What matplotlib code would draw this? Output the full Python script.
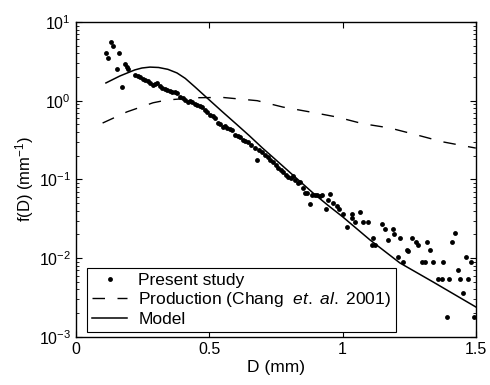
import numpy as np
import matplotlib
matplotlib.use('Agg')
import matplotlib.pyplot as plt
from matplotlib.ticker import LogLocator, NullFormatter, FixedLocator

plt.rcParams['font.family'] = ['Liberation Sans', 'DejaVu Sans']
plt.rcParams['mathtext.fontset'] = 'custom'
plt.rcParams['mathtext.rm'] = 'Liberation Sans'
plt.rcParams['mathtext.it'] = 'Liberation Sans:italic'
plt.rcParams['font.size'] = 11

# measured points (D in mm, f in 1/mm)
present_D = [0.113, 0.120, 0.131, 0.139, 0.154, 0.161, 0.172, 0.184, 0.191, 0.195,
             0.221, 0.2325, 0.24, 0.251, 0.259, 0.27, 0.2775, 0.289, 0.296, 0.304,
             0.315, 0.3225, 0.334, 0.341, 0.3525, 0.36, 0.371, 0.379, 0.39, 0.401,
             0.409, 0.42, 0.4275, 0.435, 0.446, 0.454, 0.465, 0.4725, 0.484, 0.491,
             0.5025, 0.514, 0.521, 0.5325, 0.54, 0.551, 0.559, 0.566, 0.5775, 0.585,
             0.596, 0.6075, 0.615, 0.626, 0.634, 0.645, 0.656, 0.671, 0.679, 0.686,
             0.6975, 0.709, 0.72, 0.7275, 0.739, 0.75, 0.7575, 0.769, 0.776, 0.7875,
             0.795, 0.806, 0.814, 0.821, 0.8325, 0.84, 0.851, 0.859, 0.866, 0.8775,
             0.885, 0.896, 0.904, 0.915, 0.9225, 0.9375, 0.945, 0.9525, 0.964, 0.979,
             0.986, 1.001, 1.016, 1.035, 1.035, 1.046, 1.065, 1.076, 1.095, 1.11,
             1.114, 1.121, 1.1475, 1.159, 1.17, 1.189, 1.1925, 1.2075, 1.215, 1.226,
             1.241, 1.245, 1.26, 1.275, 1.2825, 1.2975, 1.309, 1.316, 1.3275, 1.339,
             1.3575, 1.3725, 1.376, 1.391, 1.399, 1.41, 1.421, 1.4325, 1.44, 1.451,
             1.4625, 1.47, 1.481, 1.4925]
present_f = [4.0, 3.5, 5.5, 5.0, 2.5, 4.0, 1.5, 2.9, 2.7, 2.5,
             2.12, 2.06, 2.0, 1.89, 1.83, 1.78, 1.68, 1.58, 1.63, 1.68,
             1.54, 1.45, 1.41, 1.37, 1.33, 1.29, 1.29, 1.25, 1.12, 1.08,
             1.02, 0.96, 0.99, 0.96, 0.91, 0.88, 0.857, 0.834, 0.764, 0.72,
             0.66, 0.64, 0.604, 0.521, 0.507, 0.465, 0.477, 0.451, 0.438, 0.426,
             0.367, 0.357, 0.347, 0.318, 0.309, 0.30, 0.274, 0.251, 0.177, 0.237,
             0.223, 0.205, 0.193, 0.177, 0.167, 0.153, 0.14, 0.132, 0.124, 0.114,
             0.108, 0.105, 0.111, 0.0986, 0.0904, 0.093, 0.078, 0.0674, 0.0674, 0.0489,
             0.0636, 0.0636, 0.0636, 0.0617, 0.0636, 0.042, 0.055, 0.0655, 0.050, 0.046,
             0.042, 0.0365, 0.025, 0.0365, 0.0324, 0.0289, 0.0387, 0.0289, 0.0289, 0.0147,
             0.018, 0.0147, 0.0272, 0.0235, 0.0171, 0.0235, 0.0203, 0.0104, 0.018, 0.009,
             0.0127, 0.0124, 0.018, 0.016, 0.0147, 0.009, 0.009, 0.016, 0.0127, 0.009,
             0.00546, 0.00546, 0.009, 0.0018, 0.00546, 0.016, 0.021, 0.0071, 0.00546, 0.0036,
             0.0104, 0.00546, 0.009, 0.0018]

# production curve (Chang et al. 2001)
prod_D = [0.1, 0.191, 0.289, 0.341, 0.45, 0.55, 0.68, 0.776, 0.8775, 0.979,
          1.076, 1.1775, 1.279, 1.376, 1.5]
prod_f = [0.52, 0.72, 0.94, 1.02, 1.09, 1.1, 1.0, 0.83, 0.72, 0.62,
          0.51, 0.45, 0.367, 0.30, 0.25]

# model curve
model_D = [0.1125, 0.165, 0.221, 0.2475, 0.2775, 0.31, 0.345, 0.379, 0.41, 0.446,
           0.495, 0.55, 0.6, 0.65, 0.7, 0.75, 0.821, 0.889, 0.945, 1.001,
           1.1025, 1.215, 1.339, 1.451, 1.5]
model_f = [1.68, 2.06, 2.46, 2.6, 2.67, 2.64, 2.5, 2.25, 1.92, 1.5,
           1.06, 0.72, 0.51, 0.36, 0.25, 0.177, 0.108, 0.0674, 0.047, 0.0334,
           0.0171, 0.0087, 0.0050, 0.0030, 0.0024]

fig = plt.figure(figsize=(4.9, 3.85), dpi=100)
ax = fig.add_axes([0.155, 0.125, 0.816, 0.818])

ax.plot(present_D, present_f, 'o', color='black', ms=3.5, mew=0, label='Present study')
ax.plot(prod_D, prod_f, color='black', lw=1, dashes=(9, 9),
        label=r'Production (Chang  $\mathit{et.\ al.}$ 2001)')
ax.plot(model_D, model_f, color='black', lw=1.1, label='Model')

ax.set_yscale('log')
ax.set_xlim(0, 1.5)
ax.set_ylim(1e-3, 1e1)
ax.xaxis.set_major_locator(FixedLocator([0, 0.5, 1, 1.5]))
ax.set_xticklabels(['0', '0.5', '1', '1.5'])
ax.yaxis.set_major_locator(LogLocator(base=10, numticks=10))
ax.yaxis.set_minor_locator(LogLocator(base=10, subs=np.arange(2, 10), numticks=10))
ax.yaxis.set_minor_formatter(NullFormatter())
ax.tick_params(which='both', direction='in', top=True, right=True, labelsize=11.5)
ax.tick_params(which='major', length=4, width=0.8)
ax.tick_params(which='minor', length=2.5, width=0.6)
for s in ax.spines.values():
    s.set_linewidth(1)

ax.set_xlabel('D (mm)', labelpad=2, fontsize=12.5)
ax.set_ylabel('f(D) (mm$^{-1}$)', labelpad=2, fontsize=12)

leg = ax.legend(loc='lower left', bbox_to_anchor=(0.0275, 0.016), borderaxespad=0,
                fancybox=False, edgecolor='black', framealpha=1, fontsize=12.5,
                handlelength=2.0, labelspacing=0.12, borderpad=0.3, handletextpad=0.65)
leg.get_frame().set_linewidth(0.8)

fig.savefig('out.png', dpi=100)
